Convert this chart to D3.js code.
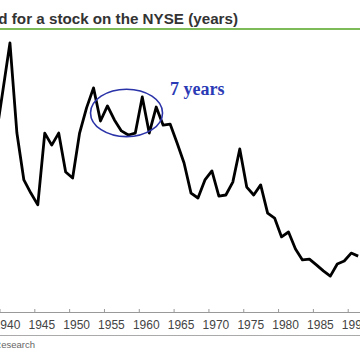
<!DOCTYPE html>
<html><head><meta charset="utf-8">
<script src="https://cdn.jsdelivr.net/npm/d3@7"></script>
<style>
html,body{margin:0;padding:0;background:#fff;}
svg{display:block;}
</style></head>
<body>
<script>
const years = [1939,1940,1941,1942,1943,1944,1945,1946,1947,1948,1949,1950,1951,1952,1953,1954,1955,1956,1957,1958,1959,1960,1961,1962,1963,1964,1965,1966,1967,1968,1969,1970,1971,1972,1973,1974,1975,1976,1977,1978,1979,1980,1981,1982,1983,1984,1985,1986,1987,1988,1989,1990,1991];
const holding = [6.39,8.10,9.82,6.53,4.82,4.34,3.91,6.53,6.09,6.53,5.11,4.89,6.53,7.45,8.18,6.97,7.52,7.01,6.61,6.46,6.53,7.85,6.53,7.48,6.82,6.86,6.17,5.44,4.34,4.16,4.82,5.15,4.23,4.27,4.74,5.95,4.56,4.27,4.64,3.61,3.43,2.74,2.92,2.30,1.90,1.93,1.72,1.50,1.31,1.75,1.86,2.15,2.04];
const labelYears = [1940,1945,1950,1955,1960,1965,1970,1975,1980,1985,1990];
const titleText = "Average holding period for a stock on the NYSE (years)";
const annotationText = "7 years";
const sourceText = "Source: Research";
// annotation ellipse extent (years, values)
const ellipseYears = [1952.57, 1962.91];
const ellipseValues = [6.40, 8.13];

const W = 360, H = 360;
const svg = d3.select("body").append("svg").attr("width", W).attr("height", H);

const x = d3.scaleLinear().domain([1945, 1990]).range([37.8, 351.2]);
const y = d3.scaleLinear().domain([0, 10]).range([312, 38]);

// title
svg.append("text")
  .attr("x", 238).attr("y", 24)
  .attr("text-anchor", "end")
  .attr("font-family", "Liberation Sans, Arial, sans-serif")
  .attr("font-weight", "bold")
  .attr("font-size", 15.2)
  .attr("fill", "#333")
  .text(titleText);

svg.append("rect").attr("x", 0).attr("y", 28).attr("width", W).attr("height", 2).attr("fill", "#7dba58");

// tick marks (at category boundaries)
const tickAxis = d3.axisBottom(x)
  .tickValues(labelYears.map(d => d - 0.5))
  .tickSizeInner(-3).tickSizeOuter(0).tickFormat("");
const gT = svg.append("g").attr("transform", "translate(0,312)").call(tickAxis);
gT.select(".domain").remove();
gT.selectAll(".tick line").attr("stroke", "#999").attr("stroke-width", 1);
svg.append("line").attr("x1", 0).attr("x2", W).attr("y1", 312.5).attr("y2", 312.5)
  .attr("stroke", "#999").attr("stroke-width", 1);

// labels
const labAxis = d3.axisBottom(x).tickValues(labelYears).tickSize(0).tickFormat(d3.format("d"));
const gL = svg.append("g").attr("transform", "translate(0,312)").call(labAxis);
gL.select(".domain").remove();
gL.selectAll(".tick text")
  .attr("dx", 3.5).attr("y", 17.3).attr("dy", 0)
  .attr("font-family", "Liberation Sans, Arial, sans-serif")
  .attr("font-size", 12)
  .attr("fill", "#444");

svg.append("line").attr("x1", 0).attr("x2", W).attr("y1", 335.5).attr("y2", 335.5)
  .attr("stroke", "#aaa").attr("stroke-width", 1);

svg.append("text")
  .attr("x", 35).attr("y", 347.5)
  .attr("text-anchor", "end")
  .attr("font-family", "Liberation Sans, Arial, sans-serif")
  .attr("font-size", 9.5)
  .attr("fill", "#666")
  .text(sourceText);

// line
const data = years.map((yr, i) => ({yr, v: holding[i]}));
svg.append("path")
  .datum(data)
  .attr("fill", "none")
  .attr("stroke", "#000")
  .attr("stroke-width", 2.8)
  .attr("stroke-linejoin", "round")
  .attr("d", d3.line().x(d => x(d.yr)).y(d => y(d.v)));

// ellipse annotation
svg.append("ellipse")
  .attr("cx", (x(ellipseYears[0]) + x(ellipseYears[1])) / 2)
  .attr("cy", (y(ellipseValues[0]) + y(ellipseValues[1])) / 2)
  .attr("rx", (x(ellipseYears[1]) - x(ellipseYears[0])) / 2)
  .attr("ry", (y(ellipseValues[0]) - y(ellipseValues[1])) / 2)
  .attr("fill", "none")
  .attr("stroke", "#2b33a8")
  .attr("stroke-width", 1.6);

svg.append("text")
  .attr("x", 170).attr("y", 95)
  .attr("font-family", "Liberation Serif, Times New Roman, serif")
  .attr("font-weight", "bold")
  .attr("font-size", 18)
  .attr("fill", "#2b3ab5")
  .text(annotationText);
</script>
</body></html>
